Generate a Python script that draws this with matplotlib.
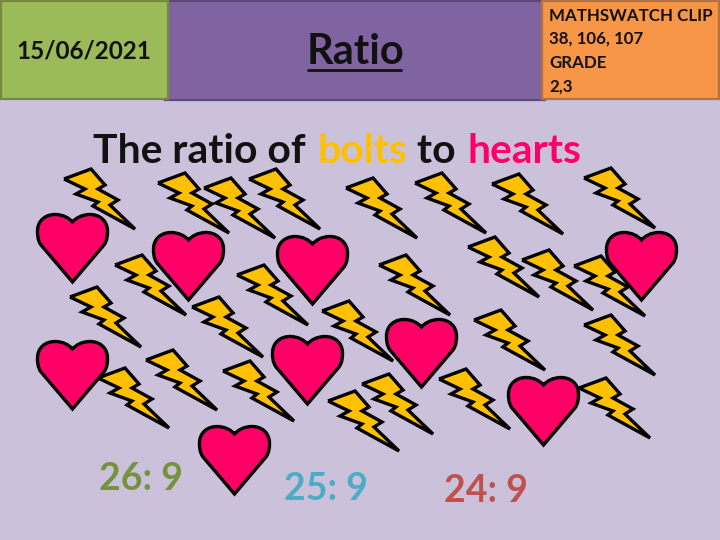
import matplotlib
matplotlib.use("Agg")
import matplotlib.pyplot as plt
from matplotlib.patches import PathPatch, Rectangle
from matplotlib.path import Path
from matplotlib.transforms import Affine2D

FONT = "Lato"
plt.rcParams["font.family"] = [FONT, "DejaVu Sans"]

# bolt icons: tip-left corner / top of each icon
bolt_x = [63, 157, 203, 248, 345, 414, 491, 583, 467, 521, 573, 114, 236,
          378, 69, 191, 321, 473, 583, 145, 222, 97, 361, 438, 327, 578]
bolt_y = [168, 172, 177, 168, 177, 172, 173, 167, 236, 249, 255, 254, 264,
          254, 286, 296, 300, 309, 314, 349, 360, 367, 373, 368, 390, 377]
# heart icons: left / top of each icon
heart_x = [36, 152, 276, 385, 605, 36, 271, 507, 198]
heart_y = [213, 231, 235, 318, 231, 340, 335, 376, 425]

date_text = "15/06/2021"
topic_text = "Ratio"
clip_lines = ["MATHSWATCH CLIP", "38, 106, 107", "GRADE", "2,3"]
title_parts = ["The ratio of ", "bolts", " to ", "hearts"]
title_colors = ["#111111", "#FFC000", "#111111", "#FF0066"]
answers = ["26: 9", "25: 9", "24: 9"]
answer_x = [141, 326, 486]
answer_y = [479, 489, 491]
answer_colors = ["#76923C", "#4BACC6", "#C0504D"]

fig = plt.figure(figsize=(7.2, 5.4), dpi=100, facecolor="#CCC1DA")
ax = fig.add_axes([0, 0, 1, 1])
ax.set_xlim(0, 720)
ax.set_ylim(540, 0)
ax.axis("off")

# header boxes
ax.add_patch(Rectangle((165, 0.5), 380, 99, fc="#8064A2", ec="#5E4A78", lw=1.6))
ax.add_patch(Rectangle((1, 1), 167, 98, fc="#9BBB59", ec="#76893F", lw=1.6))
ax.add_patch(Rectangle((542, 1), 177, 98, fc="#F79646", ec="#B5713F", lw=1.6))

ax.text(84, 51, date_text, ha="center", va="center", fontsize=17.5,
        color="#111111", fontweight="bold")
ax.text(355, 52, topic_text, ha="center", va="center", fontsize=30,
        color="#111111", fontweight="bold")
ax.plot([307, 402], [69.5, 69.5], color="#111111", lw=2, solid_capstyle="butt")
for line, y in zip(clip_lines, [16, 39, 63, 87]):
    ax.text(549, y, line, ha="left", va="center", fontsize=12.2, color="#111111",
            fontweight="bold")

# multi-colour title
fig.canvas.draw()
renderer = fig.canvas.get_renderer()
x = 93
for part, col in zip(title_parts, title_colors):
    ax.text(x, 163, part, ha="left", va="baseline", fontsize=29.4,
            color=col, fontweight="bold")
    probe = ax.text(0, 0, part.replace(" ", "|"), fontsize=29.4, fontweight="bold")
    w = probe.get_window_extent(renderer).width
    probe.remove()
    x += w

for s, xx, yy, c in zip(answers, answer_x, answer_y, answer_colors):
    ax.text(xx, yy, s, ha="center", va="center", fontsize=27, color=c, fontweight="bold")

# icon shapes, in pixels relative to the icon's left/top corner
bolt_pts = [(1, 11), (28, 1), (42, 17), (35, 21), (55, 32), (47, 37), (72, 61),
            (30, 38), (35, 34), (13, 26), (22, 21), (1, 11)]
bolt_path = Path(bolt_pts, closed=False)
C4, L2, C = Path.CURVE4, Path.LINETO, Path.CLOSEPOLY
heart_path = Path(
    [(36.5, 69), (5, 32), (1.5, 27), (1.5, 22), (1.5, 18), (1.5, 8), (9, 1.5), (19, 1.5),
     (27, 1.5), (33, 5), (36.5, 9), (40, 5), (46, 1.5), (54, 1.5), (64, 1.5), (71.5, 8),
     (71.5, 18), (71.5, 22), (71.5, 27), (68, 32), (36.5, 69)],
    [Path.MOVETO, L2, C4, C4, C4, C4, C4, C4, C4, C4, C4, C4, C4, C4, C4, C4, C4, C4, C4, L2, C],
)

for bx, by in zip(bolt_x, bolt_y):
    ax.add_patch(PathPatch(bolt_path, fc="#FFC000", ec="black", lw=2.4, joinstyle="miter",
                           transform=Affine2D().translate(bx, by) + ax.transData))
for hx, hy in zip(heart_x, heart_y):
    ax.add_patch(PathPatch(heart_path, fc="#FF0066", ec="black", lw=2.4, joinstyle="miter",
                           transform=Affine2D().translate(hx, hy) + ax.transData))

fig.savefig("out.png", dpi=100, facecolor=fig.get_facecolor())
